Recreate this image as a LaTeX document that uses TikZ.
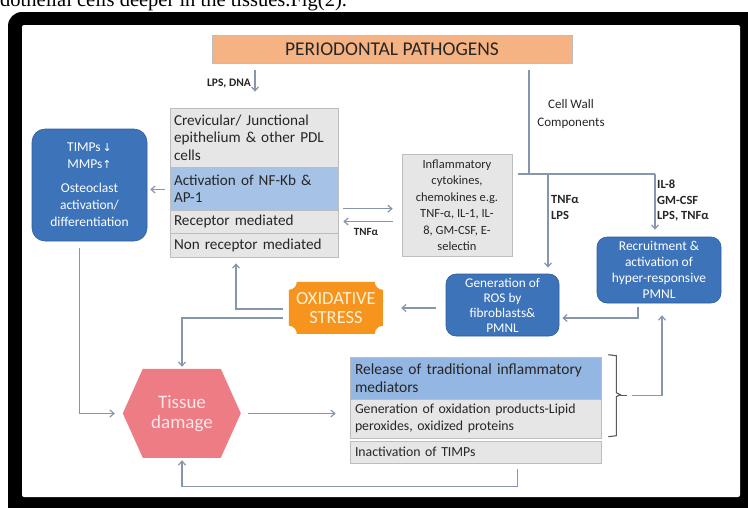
\documentclass[tikz,border=0pt]{standalone}
\usepackage{fontspec}
\setmainfont{Carlito}
\newfontfamily\serifT{Liberation Serif}
\newfontfamily\dvs{DejaVu Sans}
\usetikzlibrary{arrows.meta,calc}
\definecolor{lineC}{HTML}{8696AD}
\definecolor{rowgrey}{HTML}{E6E6E6}
\definecolor{rowborder}{HTML}{BDBDBD}
\definecolor{rowblue}{HTML}{A6C3E7}
\definecolor{rowblueB}{HTML}{93B6E3}
\definecolor{dblue}{HTML}{3D73B9}
\definecolor{dblueB}{HTML}{2F5E9C}
\definecolor{pathor}{HTML}{F5B383}
\definecolor{oxor}{HTML}{F7941E}
\definecolor{oxtext}{HTML}{FDF0D5}
\definecolor{tissue}{HTML}{EE7C85}
\definecolor{tissuetext}{HTML}{FCE6E8}
\definecolor{txt}{HTML}{262626}
\newcommand\myfs[2]{\fontsize{#1}{#2}\selectfont}
\tikzset{
  conn/.style={draw=lineC, line width=1.2pt, -{Straight Barb[length=4pt,width=7pt]}},
  plain/.style={draw=lineC, line width=1.2pt},
  rowbox/.style={draw=rowborder, line width=0.6pt, fill=rowgrey, text=txt, minimum width=168pt,
     text width=160pt, inner xsep=4pt, inner ysep=0pt, align=left, anchor=center, font=\myfs{15.2}{17.5}},
  browbox/.style={rowbox, minimum width=251pt, text width=241pt, inner xsep=5pt, font=\myfs{13.8}{16.5}},
  dbox/.style={fill=dblue, draw=dblueB, line width=0.6pt, rounded corners=10pt, text=white,
     align=center, inner sep=0pt, anchor=center, font=\myfs{13.5}{16}},
  lbl/.style={text=txt, align=left, inner sep=0pt, font=\myfs{11}{15}},
  ghost/.style={inner sep=0pt, anchor=center}
}
\begin{document}
\begin{tikzpicture}[x=1pt,y=-1pt]
\useasboundingbox (0,0) rectangle (748,507);
\clip (0,0) rectangle (748,507);
\fill[white] (0,0) rectangle (748,507);
% caption line cut at top
\node[anchor=base west, inner sep=0pt, font=\serifT\myfs{20.5}{21}] (cap) at (0,6) {dothelial cells deeper in the tissues.Fig(2).};
% frame
\fill[black, rounded corners=14pt] (8,12) rectangle (775,530);
\fill[white, rounded corners=2pt] (22,25) rectangle (740,497);

% top box
\node[draw=rowborder, fill=pathor, line width=0.6pt, minimum width=360pt, minimum height=28pt, inner sep=0pt,
  text=txt, font=\myfs{19.5}{20}] (pathogens) at (392,49) {PERIODONTAL PATHOGENS};

% left stack
\node[rowbox, minimum height=59pt] (r1) at (254,137.5) {Crevicular/ Junctional\\epithelium \& other PDL\\cells};
\node[rowbox, fill=rowblue, minimum height=43pt] (r2) at (254,188.5) {Activation of NF-Kb \&\\AP-1};
\node[rowbox, minimum height=23pt] (r3) at (254,221.5) {Receptor mediated};
\node[rowbox, minimum height=24pt] (r4) at (254,245) {Non receptor mediated};

% left blue box
\node[dbox, minimum width=115pt, minimum height=112pt, rounded corners=13pt, font=\myfs{13.5}{17}] (leftbox) at (89.5,185)
  {TIMPs{\dvs\myfs{11}{17}\,↓}\\MMPs{\dvs\myfs{11}{17}↑}\\[7pt]Osteoclast\\activation/\\differentiation};

% inflammatory box
\node[draw=rowborder, fill=rowgrey, line width=0.6pt, minimum width=110pt, minimum height=102pt, inner sep=0pt,
  text=txt, align=center, font=\myfs{12.5}{16.5}] (infl) at (457,205)
  {Inflammatory\\cytokines,\\chemokines e.g.\\TNF-α, IL-1, IL-\\8, GM-CSF, E-\\selectin};

% recruitment
\node[dbox, minimum width=124pt, minimum height=66pt] (recruit) at (659,270)
  {Recruitment \&\\activation of\\hyper-responsive\\PMNL};
% ROS
\node[dbox, minimum width=113pt, minimum height=62pt, font=\myfs{13.3}{15}] (ros) at (502.5,305)
  {Generation of\\ROS by\\fibroblasts\&\\PMNL};

% oxidative stress
\node[ghost, minimum width=94pt, minimum height=52pt] (ox) at (336,308) {};
\begin{scope}[shift={(ox.north west)}]
\fill[oxor] (8,0) -- (86,0) .. controls (86,4.4) and (89.6,8) .. (94,8) -- (94,44)
  .. controls (89.6,44) and (86,47.6) .. (86,52) -- (8,52) .. controls (8,47.6) and (4.4,44) .. (0,44)
  -- (0,8) .. controls (4.4,8) and (8,4.4) .. (8,0) -- cycle;
\end{scope}
\node[align=center, text=oxtext, inner sep=0pt, font=\myfs{18.5}{19}] (oxt) at (ox.center) {OXIDATIVE\\STRESS};

% tissue damage
\node[ghost, minimum width=118pt, minimum height=89pt] (tissue) at (182,413.5) {};
\begin{scope}[shift={(tissue.north west)}]
\fill[tissue] (20,0) -- (98,0) -- (118,44.5) -- (98,89) -- (20,89) -- (0,44.5) -- cycle;
\end{scope}
\node[align=center, text=tissuetext, inner sep=0pt, font=\myfs{19}{20}] (tisst) at (tissue.center) {Tissue\\damage};

% bottom stack
\node[browbox, fill=rowblueB, minimum height=42pt, font=\myfs{15.5}{18}] (b1) at (475.5,378) {Release of traditional inflammatory\\mediators};
\node[browbox, minimum height=39pt] (b2) at (475.5,418.5) {Generation of oxidation products-Lipid\\peroxides, oxidized proteins};
\node[browbox, minimum height=22pt] (b3) at (475.5,452) {Inactivation of TIMPs};

% labels
\node[lbl, anchor=east, font=\bfseries\myfs{11.5}{13}] (lpsdna) at (251,84) {LPS, DNA};
\node[lbl, anchor=center, align=center, font=\myfs{13}{18}] (cellwall) at (571,114) {Cell Wall\\Components};
\node[lbl, anchor=center, font=\bfseries\myfs{11}{13}] (tnfmid) at (366,232) {TNFα};
\node[lbl, anchor=north west, font=\bfseries\myfs{12.5}{16}] (tnflps) at (551,195) {TNFα\\LPS};
\node[lbl, anchor=north west, font=\bfseries\myfs{12.5}{15.5}] (il8) at (657,180) {IL-8\\GM-CSF\\LPS, TNFα};

% connectors
\draw[conn] ($(pathogens.south -| r1.north)+(1,7)$) -- ($(r1.north)+(1,-16)$);
\draw[conn] ($(r2.west)+(-5,1)$) -- ($(r2.west -| leftbox.east)+(3,1)$);
\draw[conn] ($(r3.north east)+(5,-1)$) -- ($(r3.north east -| infl.west)+(-9,-1)$);
\draw[conn] ($(r3.east -| infl.west)+(-9,0)$) -- ($(r3.east)+(5,0)$);

\coordinate (cw) at (529,174);
\coordinate (hl) at (518,174);
\coordinate (jr) at (548,174);
\coordinate (jq) at (655,174);
\draw[plain] ($(pathogens.south -| cw)+(0,7)$) -- (cw);
\draw[plain] (hl) -- (jq);
\draw[conn, shorten >=6pt] (jr) -- (jr |- ros.north);
\draw[conn, shorten >=7pt] (jq) -- (jq |- recruit.north);

\draw[conn] ($(recruit.south)+(-21,4)$) |- ($(ros.east)+(3,13)$);
\draw[conn] ($(ros.west)+(-10,3)$) -- ($(ox.east)+(18,0)$);
\draw[conn] ($(ox.west)+(-6,1)$) -| ($(r4.south)+(-18,6)$);
\draw[conn] ($(ox.west)+(-6,10)$) -| ($(tissue.north)+(0,-2)$);
\draw[conn] ($(leftbox.south)+(-10,7)$) |- ($(tissue.west)+(-8,0)$);
\draw[conn] ($(tissue.east)+(7,0)$) -- ($(tissue.east -| b2.west)+(-14,0)$);
\draw[conn] ($(b3.south)+(42,6)$) -- ++(0,17) -| ($(tissue.south)+(0,2)$);

% bracket
\coordinate (brk) at ($(b1.north east)+(26,39)$);
\draw[draw=black!65, line width=1.1pt] ($(b1.north east)+(7,-2)$) -- ++(8,1) -- ++(0,37) -- ++(4,2) -- ++(-4,2) -- ++(0,39) -- ++(-8,1);
\draw[draw=black!65, line width=1.1pt] ($(brk)+(-7,0)$) -- (brk);
\draw[conn] ($(brk)+(5,0)$) -| ($(recruit.south)+(3,12)$);
\end{tikzpicture}
\end{document}
